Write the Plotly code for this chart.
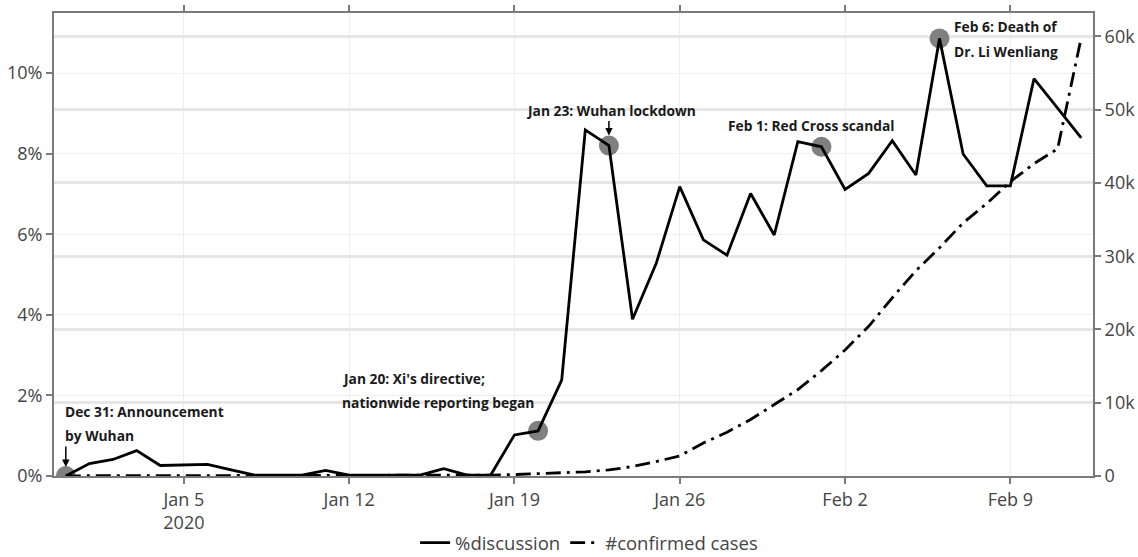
import plotly.graph_objects as go
import pandas as pd

dates = pd.date_range("2019-12-31", "2020-02-12", freq="D").strftime("%Y-%m-%d").tolist()

discussion_pct = [0.0, 0.31, 0.41, 0.63, 0.26, 0.27, 0.29, 0.15, 0.02, 0.02, 0.02, 0.14,
                  0.02, 0.02, 0.02, 0.02, 0.18, 0.02, 0.03, 1.02, 1.12, 2.38, 8.59, 8.20,
                  3.89, 5.27, 7.18, 5.86, 5.48, 7.01, 5.98, 8.30, 8.17, 7.11, 7.51, 8.32,
                  7.47, 10.86, 7.99, 7.20, 7.20, 9.86, 9.13, 8.39]

confirmed_cases = [27, 27, 27, 44, 44, 59, 59, 59, 59, 59, 59, 41, 41, 41, 41, 41, 45, 62,
                   121, 198, 291, 440, 571, 830, 1287, 1975, 2744, 4515, 5974, 7711, 9692,
                   11791, 14380, 17205, 20438, 24324, 28018, 31161, 34546, 37198, 40171,
                   42638, 44653, 59804]

event_dates = ["2019-12-31", "2020-01-20", "2020-01-23", "2020-02-01", "2020-02-06"]

series_names = ["%discussion", "#confirmed cases"]
x_tick0 = "2020-01-05"

discussion = [v / 100 for v in discussion_pct]
event_vals = [discussion[dates.index(d)] for d in event_dates]

fig = go.Figure()

fig.add_trace(go.Scatter(
    x=event_dates, y=event_vals, mode="markers",
    marker=dict(size=20, color="rgb(128,128,128)"),
    showlegend=False, hoverinfo="skip", yaxis="y"))

fig.add_trace(go.Scatter(
    x=dates, y=discussion, mode="lines", name=series_names[0],
    line=dict(color="black", width=2.8), yaxis="y"))

fig.add_trace(go.Scatter(
    x=dates, y=confirmed_cases, mode="lines", name=series_names[1],
    line=dict(color="black", width=2.8, dash="longdashdot"), yaxis="y2"))

ann_font = dict(family="Open Sans", size=13.8, color="#1a1a1a")

def txt(x, y, s, xanchor="left", xshift=0):
    fig.add_annotation(x=x, y=y, xref="x", yref="y", text="<b>" + s + "</b>",
                       showarrow=False, xanchor=xanchor, yanchor="middle",
                       xshift=xshift, font=ann_font)

def arrow(x, y, ay, standoff):
    fig.add_annotation(x=x, y=y, xref="x", yref="y", text="", showarrow=True,
                       ax=0, ay=ay, arrowhead=2, arrowsize=1, arrowwidth=1.5,
                       arrowcolor="black", standoff=standoff)

# Dec 31
txt("2019-12-31", 0.01596, "Dec 31: Announcement", xshift=-3)
txt("2019-12-31", 0.0100, "by Wuhan", xshift=-3)
arrow("2019-12-31", event_vals[0], -31, 9)
# Jan 20
txt("2020-01-11 18:00", 0.02424, "Jan 20: Xi's directive;", xshift=-3)
txt("2020-01-11 18:00", 0.01819, "nationwide reporting began", xshift=-3)
# Jan 23
txt("2020-01-23", 0.0908, "Jan 23: Wuhan lockdown", xanchor="center", xshift=2)
arrow("2020-01-23", event_vals[2], -26, 10)
# Feb 1
txt("2020-01-31 14:00", 0.0871, "Feb 1: Red Cross scandal", xanchor="center")
# Feb 6
txt("2020-02-06 16:00", 0.1115, "Feb 6: Death of", xshift=-3)
txt("2020-02-06 16:00", 0.1053, "Dr. Li Wenliang", xshift=-3)

axis_line = "#7a7a7a"
tick_font = dict(family="Open Sans", size=18, color="#444")

fig.update_layout(
    width=1138, height=557,
    margin=dict(l=54, r=45, t=13, b=81, autoexpand=False),
    plot_bgcolor="white", paper_bgcolor="white",
    font=dict(family="Open Sans", size=18, color="#444"),
    xaxis=dict(
        type="date", range=["2019-12-30 12:00", "2020-02-12 12:00"],
        tick0=x_tick0, dtick=7 * 86400000,
        showgrid=True, gridcolor="#ededed", gridwidth=1.4,
        showline=True, linecolor=axis_line, linewidth=2, mirror="ticks",
        ticks="outside", ticklen=6, tickwidth=1.5, tickcolor=axis_line,
        tickfont=tick_font, zeroline=False),
    yaxis=dict(
        range=[0, 0.1149], tickformat=".0%", dtick=0.02, tick0=0,
        showgrid=True, gridcolor="#efefef", gridwidth=1.4,
        showline=True, linecolor=axis_line, linewidth=2,
        ticks="outside", ticklen=6, tickwidth=1.5, tickcolor=axis_line,
        tickfont=tick_font, zeroline=False),
    yaxis2=dict(
        range=[0, 63200], dtick=10000, tick0=0, tickformat="~s",
        overlaying="y", side="right",
        showgrid=True, gridcolor="#e6e6e6", gridwidth=3,
        showline=True, linecolor=axis_line, linewidth=2,
        ticks="outside", ticklen=6, tickwidth=1.5, tickcolor=axis_line,
        tickfont=tick_font, zeroline=False),
    legend=dict(orientation="h", x=0.515, xanchor="center", y=-0.145, yanchor="middle",
                font=dict(family="Open Sans", size=18.5, color="#444")),
    showlegend=True,
)

fig.write_html("out.html", config={"displayModeBar": False},
               post_script="document.body.style.margin='0';document.body.style.overflow='hidden';")
